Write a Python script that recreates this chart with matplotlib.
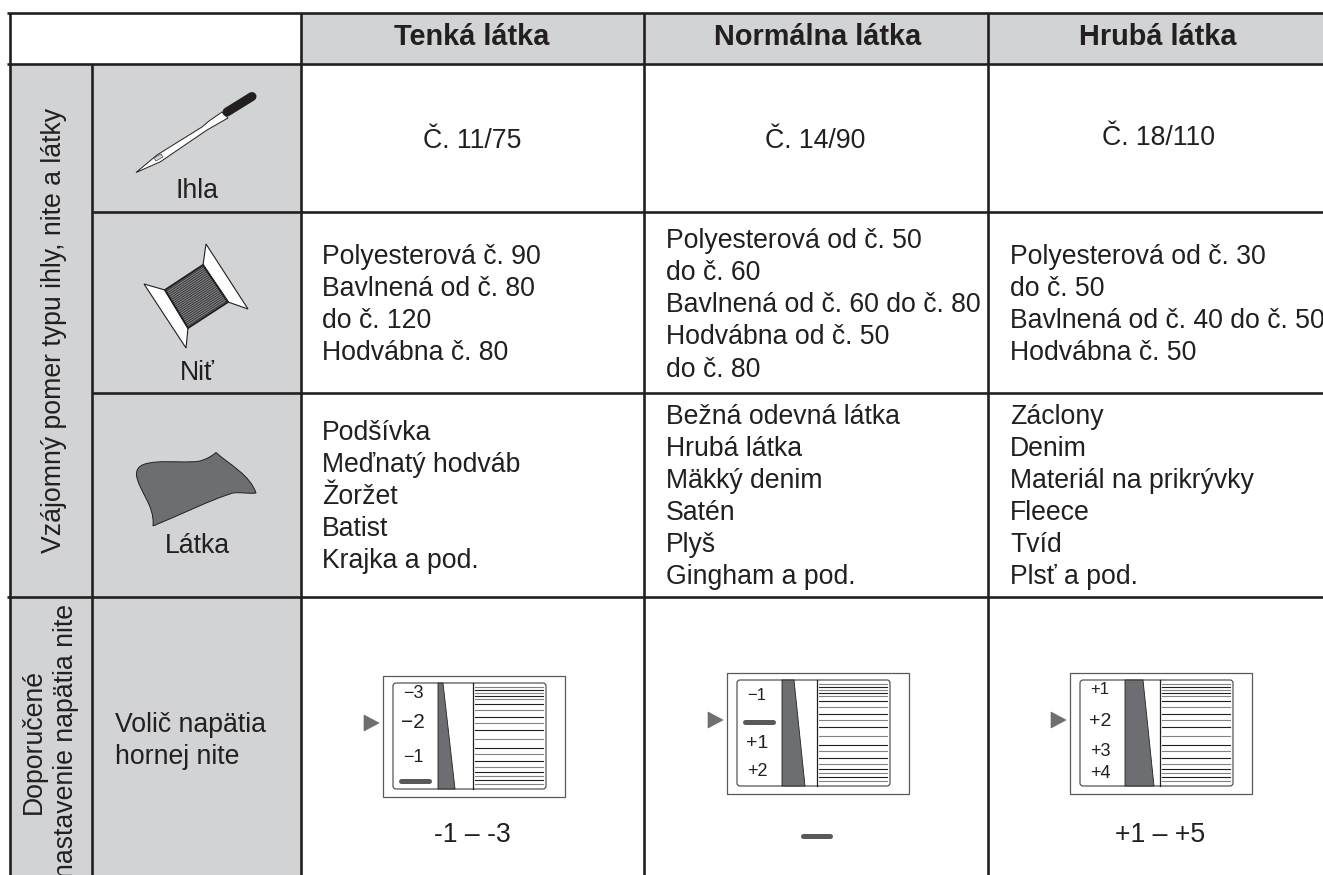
"""Sewing table: needle / thread / fabric pairing and upper-thread tension dials."""
import numpy as np
import matplotlib
matplotlib.use("Agg")
import matplotlib.pyplot as plt
from matplotlib.patches import Polygon, Rectangle, FancyBboxPatch, PathPatch
from matplotlib.path import Path

plt.rcParams['font.family'] = ['Liberation Sans', 'DejaVu Sans']

INK = "#231f20"
GREY = "#d1d3d4"
DARK = "#6d6e71"

# table content
headers = ["Tenká látka", "Normálna látka", "Hrubá látka"]
needles = ["Č. 11/75", "Č. 14/90", "Č. 18/110"]
threads = [
    ["Polyesterová č. 90", "Bavlnená od č. 80", "do č. 120", "Hodvábna č. 80"],
    ["Polyesterová od č. 50", "do č. 60", "Bavlnená od č. 60 do č. 80",
     "Hodvábna od č. 50", "do č. 80"],
    ["Polyesterová od č. 30", "do č. 50", "Bavlnená od č. 40 do č. 50",
     "Hodvábna č. 50"],
]
fabrics = [
    ["Podšívka", "Meďnatý hodváb", "Žoržet", "Batist", "Krajka a pod."],
    ["Bežná odevná látka", "Hrubá látka", "Mäkký denim", "Satén", "Plyš",
     "Gingham a pod."],
    ["Záclony", "Denim", "Materiál na prikrývky", "Fleece", "Tvíd", "Plsť a pod."],
]
row_names = ["Ihla", "Niť", "Látka"]
group_top = "Vzájomný pomer typu ihly, nite a látky"
group_bottom = "Doporučené\nnastavenie napätia nite"
dial_row = ["Volič napätia", "hornej nite"]

# tension dials
dial_marks = [["−3", "−2", "−1", "bar"],
              ["−1", "bar", "+1", "+2"],
              ["+1", "+2", "+3", "+4"]]
dial_mark_y = [[18, 47, 81, 105], [22, 49, 70, 99], [16, 48, 78, 101]]
dial_mark_size = [[13, 15, 13, 0], [12, 0, 14, 13], [12, 14, 13, 13]]
dial_captions = ["-1 – -3", "", "+1 – +5"]
stripe_y = [4, 7, 10, 13, 16, 21, 27, 34, 40, 47, 56, 65, 71, 78, 84, 89, 93, 97, 101]

# grid, in pixels
COLS = [10, 92, 300.5, 644, 988, 1323]
ROWS = [12.5, 64, 212, 393, 597, 875]
TEXT_X = [322, 666, 1010]
HEAD_X = [472, 818, 1158]
NEEDLE_X = [472, 815, 1158]
NEEDLE_BASE = [148, 148, 145]
THREAD_Y = [[264, 296, 328, 360], [248, 280, 312, 344, 377], [264, 296, 328, 360]]
FABRIC_Y = [[440, 472, 504, 536, 568], [424, 456, 488, 520, 552, 584], [424, 456, 488, 520, 552, 584]]
DIAL_XY = [(383, 676), (727, 673), (1070, 673)]
WEDGE = [(60, 72), (67, 78), (73, 84)]
BODY = 19.2

fig = plt.figure(figsize=(13.23, 8.75), dpi=100)
ax = fig.add_axes([0, 0, 1, 1])
ax.set_xlim(0, 1323)
ax.set_ylim(875, 0)
ax.axis("off")


def label(x, y, s, size=BODY, **kw):
    kw.setdefault("ha", "left")
    kw.setdefault("va", "baseline")
    ax.text(x, y, s, fontsize=size, color=INK, **kw)


# grey cells
ax.add_patch(Rectangle((COLS[2], ROWS[0]), 1323 - COLS[2], ROWS[1] - ROWS[0], fc=GREY, ec="none"))
ax.add_patch(Rectangle((COLS[0], ROWS[1]), COLS[2] - COLS[0], ROWS[5] - ROWS[1], fc=GREY, ec="none"))

# rules
LW = 1.9
for y in [ROWS[0], ROWS[1], ROWS[4]]:
    ax.plot([7, 1323], [y, y], color=INK, lw=LW, solid_capstyle="butt")
for y in ROWS[2:4]:
    ax.plot([COLS[1], 1323], [y, y], color=INK, lw=LW, solid_capstyle="butt")
ax.plot([COLS[0], COLS[0]], [ROWS[0], 875], color=INK, lw=LW, solid_capstyle="butt")
ax.plot([COLS[1], COLS[1]], [ROWS[1], 875], color=INK, lw=LW, solid_capstyle="butt")
for x in COLS[2:5]:
    ax.plot([x, x], [ROWS[0], 875], color=INK, lw=LW, solid_capstyle="butt")

# text cells
for i in range(3):
    label(HEAD_X[i], 45, headers[i], size=20.8, ha="center", fontweight="bold")
    label(NEEDLE_X[i], NEEDLE_BASE[i], needles[i], ha="center")
    for y, s in zip(THREAD_Y[i], threads[i]):
        label(TEXT_X[i], y, s)
    for y, s in zip(FABRIC_Y[i], fabrics[i]):
        label(TEXT_X[i], y, s)

for y, s in zip([198, 380, 553], row_names):
    label(197, y, s, ha="center")
for y, s in zip([732, 764], dial_row):
    label(115, y, s)
label(54, 330, group_top, ha="center", va="center", rotation=90)
# the reference runs this one off the bottom of the page too
label(50, 741, group_bottom, ha="center", va="center", rotation=90,
      multialignment="center", linespacing=1.3)

# needle
ax.add_patch(Polygon([(136, 172.5), (157, 155), (202, 127), (209, 121), (222, 112),
                      (228, 118), (207, 130), (160, 162)], fc="white", ec=INK, lw=0.7))
ax.plot([227, 252], [112, 96.5], color=INK, lw=6.5, solid_capstyle="round")
ax.add_patch(Polygon([(154, 158), (161, 154), (163, 157), (156, 161)], fc=GREY, ec=INK, lw=0.4))

# spool
ax.add_patch(Polygon([(144, 284), (165, 290), (188, 328), (186, 348)], fc="white", ec=INK, lw=0.8))
ax.add_patch(Polygon([(206, 244), (203, 265), (228, 302), (248, 309)], fc="white", ec=INK, lw=0.8))
ax.add_patch(Polygon([(165, 290), (203, 265), (228, 302), (188, 328)], fc="#808285", ec=INK, lw=1.4))
for t in np.linspace(0.04, 0.96, 22):
    ax.plot([165 + 23 * t, 203 + 25 * t], [290 + 38 * t, 265 + 37 * t], color=INK, lw=0.5)

# fabric
verts = [(153, 526), (155, 505), (138, 490), (136.5, 475), (136, 465), (145, 463), (157, 462),
         (170, 461), (190, 463), (200, 461), (207, 459), (212, 456), (216, 452.5),
         (230, 465), (250, 475), (256, 493), (250, 494), (240, 492), (233, 493),
         (210, 500), (180, 515), (153, 526)]
codes = [Path.MOVETO] + [Path.CURVE4] * 21
ax.add_patch(PathPatch(Path(verts, codes), fc=DARK, ec=INK, lw=0.7))

# dials
for i, (x0, y0) in enumerate(DIAL_XY):
    ax.add_patch(Rectangle((x0, y0), 182, 121, fc="white", ec="#58595b", lw=0.9))
    ax.add_patch(Polygon([(x0 - 19, y0 + 39), (x0 - 4, y0 + 47), (x0 - 19, y0 + 55)],
                         fc=DARK, ec=DARK, lw=0.5))
    ax.add_patch(FancyBboxPatch((x0 + 10, y0 + 7), 153, 106,
                                boxstyle="round,pad=0,rounding_size=3",
                                fc="white", ec="#414042", lw=0.8))
    top, bot = WEDGE[i]
    ax.add_patch(Polygon([(x0 + 55, y0 + 7), (x0 + top, y0 + 7), (x0 + bot, y0 + 113), (x0 + 55, y0 + 113)],
                         fc=DARK, ec=INK, lw=0.6))
    ax.plot([x0 + 90, x0 + 90], [y0 + 7, y0 + 113], color=INK, lw=0.9)
    for k, dy in enumerate(stripe_y):
        ax.plot([x0 + 92, x0 + 160], [y0 + 7 + dy] * 2, color=INK if k % 2 else "#808285", lw=0.8)
    for s, dy, fs in zip(dial_marks[i], dial_mark_y[i], dial_mark_size[i]):
        if s == "bar":
            ax.plot([x0 + 18, x0 + 46], [y0 + dy] * 2, color="#58595b", lw=3.6, solid_capstyle="round")
        else:
            label(x0 + 30, y0 + dy, s, size=fs, ha="center", va="center")
    if dial_captions[i]:
        label(x0 + (89 if i == 0 else 90), 842, dial_captions[i], ha="center")
    else:
        ax.plot([x0 + 76, x0 + 103], [836, 836], color="#58595b", lw=3.6, solid_capstyle="round")

fig.savefig("out.png", dpi=100)
